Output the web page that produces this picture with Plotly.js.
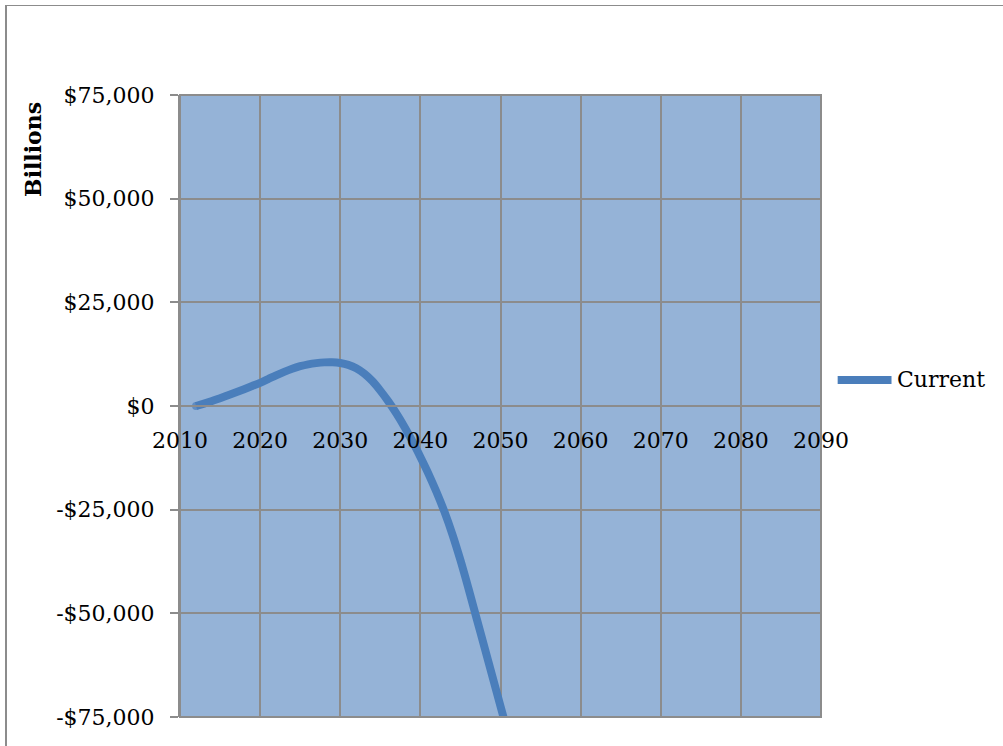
<!DOCTYPE html>
<html>
<head>
<meta charset="utf-8">
<script src="https://cdn.plot.ly/plotly-3.0.1.min.js"></script>
<style>
  html, body { margin: 0; padding: 0; background: #ffffff; }
  #wrap { position: relative; width: 1003px; height: 746px; overflow: hidden; }
  #chart { position: absolute; left: 0; top: 0; width: 1003px; height: 746px; }
  #frame {
    position: absolute; left: 5px; top: 5px; width: 1200px; height: 900px;
    border-left: 2px solid #8c8c8c; border-top: 1px solid #8c8c8c;
    pointer-events: none; z-index: 5;
  }
</style>
</head>
<body>
<div id="wrap">
  <div id="chart"></div>
  <div id="frame"></div>
</div>
<script>
// Projected balance, billions of dollars, by year
const years = [2012, 2013, 2014, 2015, 2016, 2017, 2018, 2019, 2020, 2021,
               2022, 2023, 2024, 2025, 2026, 2027, 2028, 2029, 2030, 2031,
               2032, 2033, 2034, 2035, 2036, 2037, 2038, 2039, 2040, 2041,
               2042, 2043, 2044, 2045, 2046, 2047, 2048, 2049, 2050, 2051];
const current = [0, 580, 1210, 1890, 2590, 3310, 4050, 4810, 5590, 6490,
                 7390, 8240, 8990, 9590, 10040, 10340, 10520, 10540, 10360, 9910,
                 9110, 7810, 6010, 3710, 1110, -1790, -4990, -8490, -12290, -16290,
                 -20690, -25490, -30990, -37190, -43990, -51090, -58190, -65290, -72390, -79490];
const seriesName = 'Current';
const yearTicks = [2010, 2020, 2030, 2040, 2050, 2060, 2070, 2080, 2090];
const valueTicks = [75000, 50000, 25000, 0, -25000, -50000, -75000];

const lineColor = '#4a7ebb';
const gridColor = '#8c8c8c';
const serif = 'DejaVu Serif, Liberation Serif, serif';

function money(v) {
  const s = '$' + Math.abs(v).toLocaleString('en-US');
  return v < 0 ? '-' + s : s;
}

// round dot on the first point gives the line a rounded start
const capSizes = years.map((_, i) => (i === 0 ? 8 : 0));

const trace = {
  x: years,
  y: current,
  name: seriesName,
  type: 'scatter',
  mode: 'lines+markers',
  line: { color: lineColor, width: 8, shape: 'spline', smoothing: 1 },
  marker: { color: lineColor, size: capSizes, line: { width: 0 } },
  showlegend: false,
  hoverinfo: 'x+y'
};

// plot area spans paper 0..1; legend sits to the right of it
const legendY = 0.542;

const layout = {
  width: 1003,
  height: 746,
  margin: { l: 180, r: 182, t: 95, b: 29, pad: 0 },
  paper_bgcolor: 'rgba(0,0,0,0)',
  plot_bgcolor: '#95b3d7',
  font: { family: serif, size: 22, color: '#000000' },
  showlegend: false,
  xaxis: {
    range: [2010, 2090],
    tickvals: yearTicks,
    ticktext: yearTicks.map(String),
    showgrid: true,
    gridcolor: gridColor,
    gridwidth: 2,
    zeroline: false,
    showline: true,
    linecolor: gridColor,
    linewidth: 2,
    ticks: '',
    anchor: 'free',
    position: 0.5,
    ticklabelstandoff: 15,
    tickfont: { family: serif, size: 22, color: '#000000' },
    fixedrange: true
  },
  yaxis: {
    range: [-75000, 75000],
    tickvals: valueTicks,
    ticktext: valueTicks.map(money),
    showgrid: true,
    gridcolor: gridColor,
    gridwidth: 2,
    zeroline: false,
    showline: true,
    linecolor: gridColor,
    linewidth: 2,
    ticks: 'outside',
    ticklen: 8,
    tickwidth: 2,
    tickcolor: gridColor,
    ticklabelstandoff: 11,
    tickfont: { family: serif, size: 22, color: '#000000' },
    fixedrange: true
  },
  shapes: [
    {
      type: 'rect', xref: 'paper', yref: 'paper',
      x0: 0, x1: 1, y0: 0, y1: 1,
      line: { color: gridColor, width: 2 },
      layer: 'above'
    },
    {
      type: 'line', xref: 'paper', yref: 'paper',
      x0: 1.026, x1: 1.110, y0: legendY, y1: legendY,
      line: { color: lineColor, width: 8 }
    }
  ],
  annotations: [
    {
      text: '<b>Billions</b>',
      xref: 'paper', yref: 'paper',
      x: -0.229, y: 0.912,
      xanchor: 'center', yanchor: 'middle',
      textangle: -90,
      showarrow: false,
      font: { family: serif, size: 22, color: '#000000' }
    },
    {
      text: seriesName,
      xref: 'paper', yref: 'paper',
      x: 1.116, y: legendY,
      xanchor: 'left', yanchor: 'middle',
      showarrow: false,
      font: { family: serif, size: 22, color: '#000000' }
    }
  ]
};

Plotly.newPlot('chart', [trace], layout, { displayModeBar: false, staticPlot: true });
</script>
</body>
</html>
